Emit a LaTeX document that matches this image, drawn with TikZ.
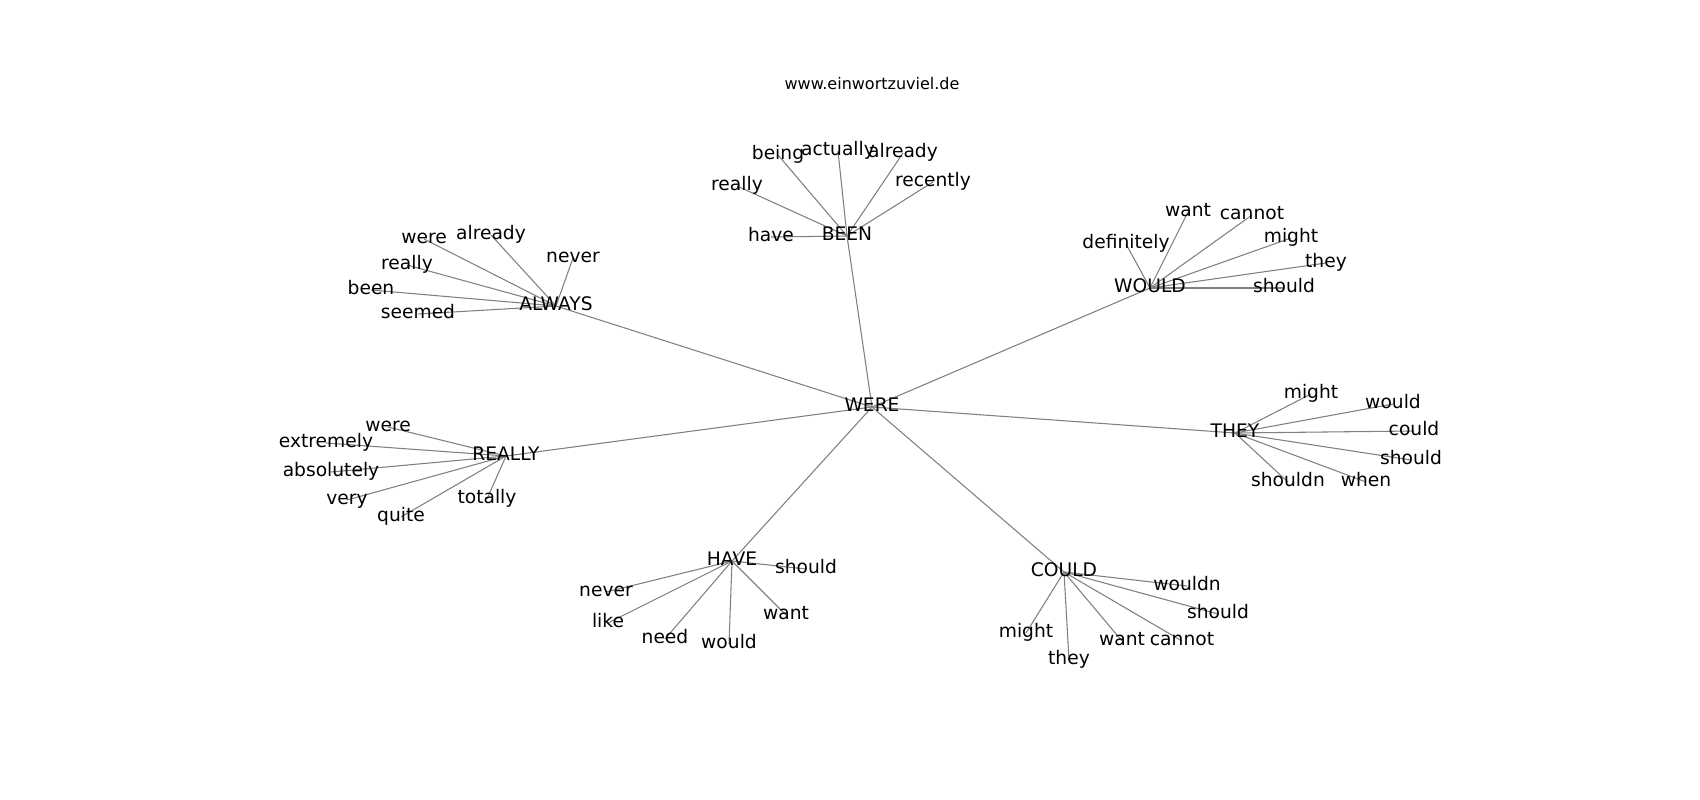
\documentclass[tikz,border=0pt]{standalone}
\usepackage{fontspec}
\setmainfont{DejaVu Sans}
\usetikzlibrary{backgrounds}

\begin{document}
\begin{tikzpicture}[x=0.75pt,y=-0.75pt,
	word/.style={inner sep=0pt,text height=0.73em,text depth=0pt,font=\fontsize{14}{16}\selectfont},
	link/.style={gray,line width=0.8pt}]
	\useasboundingbox (0,-2) rectangle (1700,798);
	\node[font=\fontsize{12}{14}\selectfont] (title) at (872,82) {www.einwortzuviel.de};

	\node[word] (were) at (872,405) {WERE};

	\node[word] (been) at (847,234) {BEEN};
	\node[word] (been-have) at (771,235) {have};
	\node[word] (been-really) at (737,184) {really};
	\node[word] (been-being) at (778,153) {being};
	\node[word] (been-actually) at (838,149) {actually};
	\node[word] (been-already) at (903,151) {already};
	\node[word] (been-recently) at (933,180) {recently};

	\node[word] (always) at (556,304) {ALWAYS};
	\node[word] (always-were) at (424,237) {were};
	\node[word] (always-already) at (491,233) {already};
	\node[word] (always-never) at (573,256) {never};
	\node[word] (always-really) at (407,263) {really};
	\node[word] (always-been) at (371,288) {been};
	\node[word] (always-seemed) at (418,312) {seemed};

	\node[word] (would) at (1150,286) {WOULD};
	\node[word] (would-want) at (1188,210) {want};
	\node[word] (would-cannot) at (1252,213) {cannot};
	\node[word] (would-definitely) at (1126,242) {definitely};
	\node[word] (would-might) at (1291,236) {might};
	\node[word] (would-they) at (1326,261) {they};
	\node[word] (would-should) at (1284,286) {should};

	\node[word] (really) at (506,454) {REALLY};
	\node[word] (really-were) at (388,425) {were};
	\node[word] (really-extremely) at (326,441) {extremely};
	\node[word] (really-absolutely) at (331,470) {absolutely};
	\node[word] (really-very) at (347,498) {very};
	\node[word] (really-quite) at (401,515) {quite};
	\node[word] (really-totally) at (487,497) {totally};

	\node[word] (they) at (1235,431) {THEY};
	\node[word] (they-might) at (1311,392) {might};
	\node[word] (they-would) at (1393,402) {would};
	\node[word] (they-could) at (1414,429) {could};
	\node[word] (they-should) at (1411,458) {should};
	\node[word] (they-shouldn) at (1288,480) {shouldn};
	\node[word] (they-when) at (1366,480) {when};

	\node[word] (have) at (732,559) {HAVE};
	\node[word] (have-should) at (806,567) {should};
	\node[word] (have-never) at (606,590) {never};
	\node[word] (have-like) at (608,621) {like};
	\node[word] (have-need) at (665,637) {need};
	\node[word] (have-would) at (729,642) {would};
	\node[word] (have-want) at (786,613) {want};

	\node[word] (could) at (1064,570) {COULD};
	\node[word] (could-wouldn) at (1187,584) {wouldn};
	\node[word] (could-should) at (1218,612) {should};
	\node[word] (could-might) at (1026,631) {might};
	\node[word] (could-they) at (1069,658) {they};
	\node[word] (could-want) at (1122,639) {want};
	\node[word] (could-cannot) at (1182,639) {cannot};

	\begin{pgfonlayer}{background}
	\path [link] (were.center) edge (been.center);
	\path [link] (were.center) edge (always.center);
	\path [link] (were.center) edge (would.center);
	\path [link] (were.center) edge (really.center);
	\path [link] (were.center) edge (they.center);
	\path [link] (were.center) edge (have.center);
	\path [link] (were.center) edge (could.center);

	\path [link] (been.center) edge (been-have.center);
	\path [link] (been.center) edge (been-really.center);
	\path [link] (been.center) edge (been-being.center);
	\path [link] (been.center) edge (been-actually.center);
	\path [link] (been.center) edge (been-already.center);
	\path [link] (been.center) edge (been-recently.center);

	\path [link] (always.center) edge (always-were.center);
	\path [link] (always.center) edge (always-already.center);
	\path [link] (always.center) edge (always-never.center);
	\path [link] (always.center) edge (always-really.center);
	\path [link] (always.center) edge (always-been.center);
	\path [link] (always.center) edge (always-seemed.center);

	\path [link] (would.center) edge (would-want.center);
	\path [link] (would.center) edge (would-cannot.center);
	\path [link] (would.center) edge (would-definitely.center);
	\path [link] (would.center) edge (would-might.center);
	\path [link] (would.center) edge (would-they.center);
	\path [link] (would.center) edge (would-should.center);

	\path [link] (really.center) edge (really-were.center);
	\path [link] (really.center) edge (really-extremely.center);
	\path [link] (really.center) edge (really-absolutely.center);
	\path [link] (really.center) edge (really-very.center);
	\path [link] (really.center) edge (really-quite.center);
	\path [link] (really.center) edge (really-totally.center);

	\path [link] (they.center) edge (they-might.center);
	\path [link] (they.center) edge (they-would.center);
	\path [link] (they.center) edge (they-could.center);
	\path [link] (they.center) edge (they-should.center);
	\path [link] (they.center) edge (they-shouldn.center);
	\path [link] (they.center) edge (they-when.center);

	\path [link] (have.center) edge (have-should.center);
	\path [link] (have.center) edge (have-never.center);
	\path [link] (have.center) edge (have-like.center);
	\path [link] (have.center) edge (have-need.center);
	\path [link] (have.center) edge (have-would.center);
	\path [link] (have.center) edge (have-want.center);

	\path [link] (could.center) edge (could-wouldn.center);
	\path [link] (could.center) edge (could-should.center);
	\path [link] (could.center) edge (could-might.center);
	\path [link] (could.center) edge (could-they.center);
	\path [link] (could.center) edge (could-want.center);
	\path [link] (could.center) edge (could-cannot.center);
	\end{pgfonlayer}
\end{tikzpicture}
\end{document}
